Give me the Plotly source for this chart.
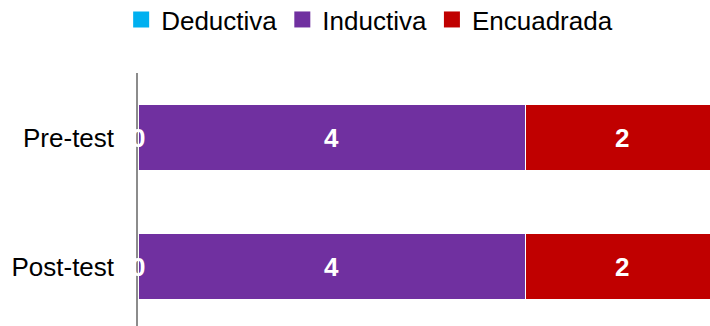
import plotly.graph_objects as go

categories = ["Post-test", "Pre-test"]
series_names = ["Deductiva", "Inductiva", "Encuadrada"]
deductiva = [0, 0]
inductiva = [4, 4]
encuadrada = [2, 2]
colors = ["#00B0F0", "#7030A0", "#C00000"]

series_values = [deductiva, inductiva, encuadrada]

W, H = 710, 326
FONT = "Liberation Sans, Arial, sans-serif"

fig = go.Figure()
for name, vals, col in zip(series_names, series_values, colors):
    fig.add_trace(go.Bar(
        y=categories, x=vals, name=name, orientation="h",
        marker=dict(color=col, line=dict(color="#FFFFFF", width=1)),
        width=0.51, hoverinfo="skip", showlegend=False, legendgroup=name,
    ))

# legend entries with larger square swatches
for name, col in zip(series_names, colors):
    fig.add_trace(go.Scatter(
        x=[None], y=[None], mode="markers", name=name, legendgroup=name,
        marker=dict(symbol="square", size=16, color=col), hoverinfo="skip",
    ))

# value labels centred in each segment
annotations = []
for i, cat in enumerate(categories):
    start = 0
    for vals in series_values:
        v = vals[i]
        annotations.append(dict(
            x=start + v / 2, y=cat, xref="x", yref="y", text=str(v),
            showarrow=False,
            font=dict(family=FONT, size=26, color="#FFFFFF", weight="bold"),
        ))
        start += v

fig.update_layout(
    barmode="stack",
    width=W, height=H,
    margin=dict(l=138, r=0, t=73, b=0, autoexpand=False),
    paper_bgcolor="#FFFFFF", plot_bgcolor="#FFFFFF",
    font=dict(family=FONT, size=26, color="#000000"),
    showlegend=True,
    legend=dict(
        orientation="h", x=0.405, xanchor="center",
        yref="container", y=0.94, yanchor="middle",
        font=dict(family=FONT, size=26, color="#000000"),
        traceorder="normal", itemwidth=30,
    ),
    annotations=annotations,
    xaxis=dict(range=[0, 5.912], showgrid=False, zeroline=False,
               showticklabels=False, showline=False, fixedrange=True),
    yaxis=dict(range=[-0.457, 1.5], showgrid=False, zeroline=False,
               showline=True, linecolor="#8C8C8C", linewidth=1.5,
               ticks="", ticklabelstandoff=17, fixedrange=True),
)

fig.write_html("out.html")
